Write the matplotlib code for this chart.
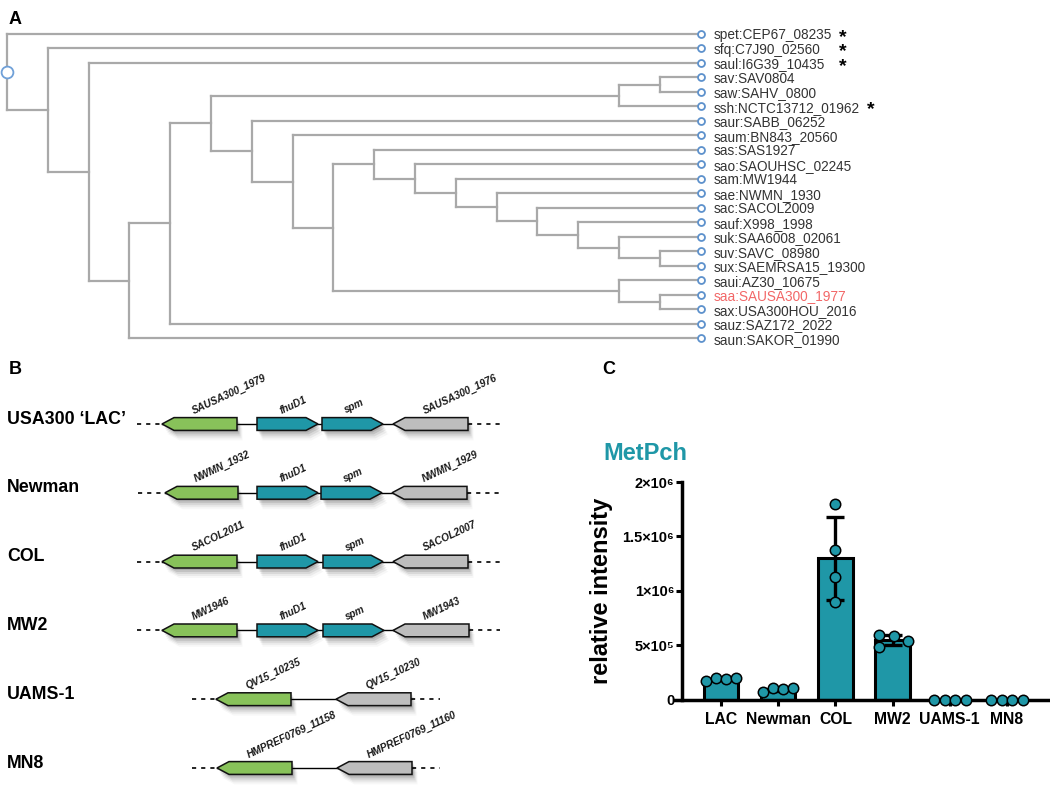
import matplotlib
matplotlib.use('Agg')
import matplotlib.pyplot as plt
from matplotlib.patches import Polygon
from matplotlib.transforms import offset_copy
from matplotlib.font_manager import FontProperties
import numpy as np

plt.rcParams['font.family'] = ['Liberation Sans', 'DejaVu Sans']

# ---------------- panel A: gene tree, internal nodes are (level, children) ----------------
saa_clade = (15, ['saui:AZ30_10675', (16, ['saa:SAUSA300_1977', 'sax:USA300HOU_2016'])])
suk_clade = (14, ['sauf:X998_1998', (15, ['suk:SAA6008_02061', (16, ['suv:SAVC_08980', 'sux:SAEMRSA15_19300'])])])
ladder = (13, ['sac:SACOL2009', suk_clade])
ladder = (12, ['sae:NWMN_1930', ladder])
ladder = (11, ['sam:MW1944', ladder])
ladder = (10, ['sao:SAOUHSC_02245', ladder])
ladder = (9, ['sas:SAS1927', ladder])
core = (8, [ladder, saa_clade])
core = (7, ['saum:BN843_20560', core])
core = (6, ['saur:SABB_06252', core])
sav_clade = (15, [(16, ['sav:SAV0804', 'saw:SAHV_0800']), 'ssh:NCTC13712_01962'])
tree = (0, ['spet:CEP67_08235',
            (1, ['sfq:C7J90_02560',
                 (2, ['saul:I6G39_10435',
                      (3, [(4, [(5, [sav_clade, core]), 'sauz:SAZ172_2022']),
                           'saun:SAKOR_01990'])])])])
leaf_level = 17
highlight = 'saa:SAUSA300_1977'
starred = [['spet:CEP67_08235', 'sfq:C7J90_02560', 'saul:I6G39_10435'],
           ['ssh:NCTC13712_01962']]

# ---------------- panel B: locus maps ----------------
strains = ['USA300 \u2018LAC\u2019', 'Newman', 'COL', 'MW2', 'UAMS-1', 'MN8']
gene_names = [['SAUSA300_1979', 'fhuD1', 'spm', 'SAUSA300_1976'],
              ['NWMN_1932', 'fhuD1', 'spm', 'NWMN_1929'],
              ['SACOL2011', 'fhuD1', 'spm', 'SACOL2007'],
              ['MW1946', 'fhuD1', 'spm', 'MW1943'],
              ['QV15_10235', 'QV15_10230'],
              ['HMPREF0769_11158', 'HMPREF0769_11160']]
gene_kind = [['up', 'cnt', 'cnt', 'down'], ['up', 'cnt', 'cnt', 'down'],
             ['up', 'cnt', 'cnt', 'down'], ['up', 'cnt', 'cnt', 'down'],
             ['up', 'down'], ['up', 'down']]
gene_start = [[162, 257, 322, 393], [165, 257, 321, 392], [162, 257, 323, 393],
              [162, 257, 323, 393], [216, 336], [217, 337]]
gene_end = [[237, 318, 383, 468], [238, 318, 382, 467], [237, 318, 383, 468],
            [237, 318, 384, 469], [291, 411], [292, 412]]
gene_strand = [[-1, 1, 1, -1], [-1, 1, 1, -1], [-1, 1, 1, -1], [-1, 1, 1, -1],
               [-1, -1], [-1, -1]]
flank_start = [137, 138, 137, 137, 192, 192]
flank_end = [500, 500, 500, 500, 440, 440]

# ---------------- panel C: MetPch ----------------
strain_labels = ['LAC', 'Newman', 'COL', 'MW2', 'UAMS-1', 'MN8']
metpch = [[175e3, 195e3, 190e3, 195e3],
          [74e3, 104e3, 98e3, 104e3],
          [1.795e6, 1.371e6, 1.131e6, 0.897e6],
          [590e3, 488e3, 583e3, 541e3],
          [0, 0, 0, 0],
          [0, 0, 0, 0]]
ytick_vals = [0, 5e5, 1e6, 1.5e6, 2e6]
ytick_text = ['0', '5\u00d710\u2075', '1\u00d710\u2076', '1.5\u00d710\u2076', '2\u00d710\u2076']

TEAL = '#1f97a7'
GREEN = '#88c25a'
GREY = '#bdbdbd'
gene_colors = {'up': GREEN, 'cnt': TEAL, 'down': GREY}

fig = plt.figure(figsize=(10.5, 7.94), dpi=100)
W, H = 1050.0, 794.0

# ===== A =====
axA = fig.add_axes([0, 1 - 350 / H, 1, 350 / H])
dx, dy = 40.8, 14.48
axA.set_xlim(-7 / dx, (W - 7) / dx)
axA.set_ylim((350 - 34) / dy, -34 / dy)
axA.axis('off')

leaves = []
segs = []


def layout(node):
    if isinstance(node, str):
        leaves.append(node)
        return leaf_level, len(leaves) - 1
    level, kids = node
    pos = [layout(k) for k in kids]
    ys = [p[1] for p in pos]
    for x, y in pos:
        segs.append(([level, x], [y, y]))
    segs.append(([level, level], [min(ys), max(ys)]))
    return level, (min(ys) + max(ys)) / 2


root_x, root_y = layout(tree)
for xs, ys in segs:
    axA.plot(xs, ys, color='#a9a9a9', lw=1.6, solid_capstyle='projecting', zorder=1)
axA.plot([leaf_level] * len(leaves), range(len(leaves)), 'o', ms=5, mfc='white',
         mec='#5d91cc', mew=1.3, zorder=3)
axA.plot([root_x], [root_y], 'o', ms=8.5, mfc='white', mec='#6fa0d8', mew=1.3, zorder=3)

label_objs = {}
for i, name in enumerate(leaves):
    label_objs[name] = axA.text(leaf_level + 0.32, i, name, fontsize=9.8,
                                color='#f26767' if name == highlight else '#333333',
                                va='center_baseline', ha='left')

# asterisks: one multi-line text per group, line pitch = leaf pitch
fig.canvas.draw()
rend = fig.canvas.get_renderer()
inv = axA.transData.inverted()
star_fp = FontProperties(family=['Liberation Sans', 'DejaVu Sans'], size=14, weight='bold')
_, lp_h, lp_d = rend.get_text_width_height_descent('lp', star_fp, ismath=False)
star_ls = (dy - lp_d) / (lp_h - lp_d)
for group in starred:
    right = max(label_objs[n].get_window_extent(rend).x1 for n in group)
    xr = inv.transform((right + 11, 0))[0]
    top = leaves.index(group[0])
    tr = offset_copy(axA.transData, fig=fig, x=0, y=-8 + (lp_h - lp_d), units='dots')
    axA.text(xr, top, '\n'.join('*' * len(group)), fontproperties=star_fp,
             ha='center', va='top', linespacing=star_ls, transform=tr)

# ===== B =====
axB = fig.add_axes([0, 0, 560 / W, (H - 345) / H])
rowpx = 68.8
axB.set_xlim(0, 560)
axB.set_ylim((H - 424) / rowpx, (345 - 424) / rowpx)
axB.axis('off')
hh = 6.4 / rowpx


def arrow(x0, x1, strand, y, head=12):
    if strand > 0:
        return [(x0, y - hh), (x1 - head, y - hh), (x1, y), (x1 - head, y + hh), (x0, y + hh)]
    return [(x1, y - hh), (x0 + head, y - hh), (x0, y), (x0 + head, y + hh), (x1, y + hh)]


for r, strain in enumerate(strains):
    axB.text(7, r - 5 / rowpx, strain, fontsize=12.8, weight='bold', va='center', ha='left')
    s0, s1 = gene_start[r][0], gene_end[r][-1]
    axB.plot([flank_start[r], s0], [r, r], color='k', lw=1.2, ls=(0, (2.5, 3)), zorder=1)
    axB.plot([s1, flank_end[r]], [r, r], color='k', lw=1.2, ls=(0, (2.5, 3)), zorder=1)
    axB.plot([s0, s1], [r, r], color='k', lw=1.0, zorder=1)
    for name, kind, a, b, st in zip(gene_names[r], gene_kind[r], gene_start[r],
                                    gene_end[r], gene_strand[r]):
        for ox, oy, al in [(1.5, 2, 0.12), (2.5, 4, 0.10), (3.5, 6, 0.07),
                           (4.5, 8, 0.05), (5.5, 10, 0.03)]:
            pts = [(px + ox, py + oy / rowpx) for px, py in arrow(a, b, st, r)]
            axB.add_patch(Polygon(pts, closed=True, fc='k', ec='none', alpha=al, zorder=2))
        axB.add_patch(Polygon(arrow(a, b, st, r), closed=True, fc=gene_colors[kind],
                              ec='#111111', lw=1.1, zorder=3, joinstyle='miter'))
        axB.text((a + b) / 2 - 6, r - hh - 4 / rowpx, name, rotation=25,
                 rotation_mode='anchor', ha='left', va='baseline', style='italic',
                 weight='bold', fontsize=7.3, color='#1a1a1a')

# ===== C =====
x_left, x_right, y0, y2 = 675, 1048, 699.6, 482
axC = fig.add_axes([x_left / W, 1 - y0 / H, (x_right - x_left) / W, (y0 - y2) / H])
step, first = 57.2, 721
axC.set_xlim((x_left - first) / step, (x_right - first) / step)
axC.set_ylim(0, 2e6)

xpos = np.arange(len(strain_labels))
means = [np.mean(v) for v in metpch]
sds = [np.std(v, ddof=1) for v in metpch]
jitter = [[-0.26, -0.09, 0.09, 0.26], [-0.26, -0.09, 0.09, 0.26], [0, 0, 0, 0],
          [-0.24, -0.24, 0.02, 0.27], [-0.28, -0.09, 0.09, 0.28], [-0.28, -0.09, 0.09, 0.28]]

axC.bar(xpos, means, width=0.6, color=TEAL, edgecolor='k', linewidth=2.2, zorder=2)
for i in xpos:
    if sds[i] > 0:
        axC.errorbar(i, means[i], yerr=sds[i], color='k', lw=2.4, capsize=6.5,
                     capthick=2.4, zorder=3)
    axC.plot(i + np.array(jitter[i]), metpch[i], 'o', ms=7.5, mfc=TEAL, mec='k',
             mew=1.1, zorder=4, clip_on=False)

for s in ['top', 'right']:
    axC.spines[s].set_visible(False)
axC.spines['left'].set_position(('data', (682 - first) / step))
axC.spines['left'].set_bounds(0, 2e6)
axC.spines['left'].set_linewidth(2.5)
axC.spines['bottom'].set_linewidth(2.5)
axC.set_yticks(ytick_vals)
axC.set_yticklabels(ytick_text, fontsize=10.5, weight='bold')
axC.set_xticks(xpos)
axC.set_xticklabels(strain_labels, fontsize=11.3, weight='bold')
axC.tick_params(axis='y', direction='out', length=4.5, width=2.2, pad=1)
axC.tick_params(axis='x', direction='out', length=4, width=2.2, pad=5)
axC.set_ylabel('relative intensity', fontsize=17, weight='bold')
axC.yaxis.set_label_coords((613 - x_left) / (x_right - x_left), 0.5)
axC.set_facecolor('none')

# panel titles
fig.text(9 / W, 1 - 20 / H, 'A', fontsize=13, weight='bold', va='center')
fig.text(9 / W, 1 - 370 / H, 'B', fontsize=13, weight='bold', va='center')
fig.text(602 / W, 1 - 370 / H, 'C', fontsize=13, weight='bold', va='center')
fig.text(603 / W, 1 - 454 / H, 'MetPch', fontsize=17, weight='bold', color=TEAL, va='center')

fig.savefig('out.png', dpi=100)
